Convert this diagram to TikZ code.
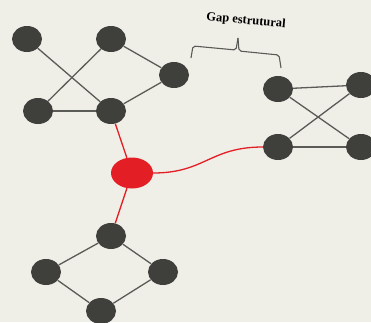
\documentclass[tikz,border=0pt]{standalone}
\usepackage{fontspec}
\setmainfont{Liberation Serif}
\usetikzlibrary{shapes.geometric}
\definecolor{bg}{HTML}{F0EFE7}
\definecolor{nodegray}{HTML}{3F3F3C}
\definecolor{edgegray}{HTML}{5A5A57}
\definecolor{redc}{HTML}{E31E24}
\tikzset{
  dot/.style={ellipse, fill=nodegray, draw=none, inner sep=0pt, minimum width=30pt, minimum height=26pt},
  reddot/.style={ellipse, fill=redc, draw=none, inner sep=0pt, minimum width=42pt, minimum height=31pt},
  link/.style={draw=edgegray, line width=1.3pt},
  redlink/.style={draw=redc, line width=1.3pt},
}
\begin{document}
\begin{tikzpicture}[x=1pt,y=-1pt]
\fill[bg] (0,0) rectangle (371,322);
\useasboundingbox (0,0) rectangle (371,322);
% top-left cluster
\node[dot] (a) at (27,39) {};
\node[dot] (b) at (111,39) {};
\node[dot] (c) at (174,75) {};
\node[dot] (d) at (38,111) {};
\node[dot] (e) at (111,111) {};
% right cluster
\node[dot] (f) at (278,89) {};
\node[dot] (g) at (361,85) {};
\node[dot] (h) at (278,147) {};
\node[dot] (i) at (361,147) {};
% bottom cluster
\node[dot] (j) at (111,236) {};
\node[dot] (k) at (46,272) {};
\node[dot] (l) at (163,272) {};
\node[dot] (m) at (101,311) {};
% red
\node[reddot] (r) at (132,173) {};
% edges
\path[link] (a) -- (e);
\path[link] (b) -- (d);
\path[link] (b) -- (c);
\path[link] (c) -- (e);
\path[link] (d) -- (e);
\path[link] (f) -- (g);
\path[link] (f) -- (i);
\path[link] (g) -- (h);
\path[link] (h) -- (i);
\path[link] (j) -- (k);
\path[link] (j) -- (l);
\path[link] (k) -- (m);
\path[link] (l) -- (m);
\path[redlink] (e) -- (r);
\path[redlink] (r) -- (j);
\path[redlink] (r.east) .. controls (205,173) and (210,147) .. (h.west);
% brace
\coordinate (bl) at (191,58);
\coordinate (br) at (281,68);
\draw[edgegray, line width=1.1pt, rounded corners=2pt]
  (bl) -- (193,46) -- (236,50) -- (238,38);
\draw[edgegray, line width=1.1pt, rounded corners=2pt]
  (238,38) -- (239,51) -- (279,55) -- (br);
\node[font=\bfseries\fontsize{12.5}{14}\selectfont, rotate=-5] (t) at (246,21) {Gap estrutural};
\end{tikzpicture}
\end{document}
